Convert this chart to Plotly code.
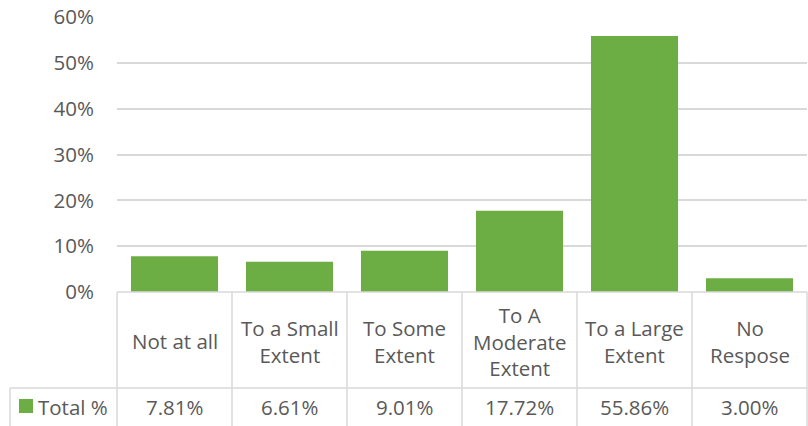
import plotly.graph_objects as go

categories = ["Not at all", "To a Small<br>Extent", "To Some<br>Extent", "To A<br>Moderate<br>Extent", "To a Large<br>Extent", "No<br>Respose"]
values = [7.81, 6.61, 9.01, 17.72, 55.86, 3.00]
series_name = "Total %"
tick_vals = [0, 10, 20, 30, 40, 50, 60]
tick_text = ["0%", "10%", "20%", "30%", "40%", "50%", "60%"]

W, H = 808, 426
L, R, T, B = 117, 1, 17, 134
plot_h = 292 - 17
plot_w = 690

def py(p):
    # pixel y -> paper y
    return (292 - p) / plot_h

def px(p):
    # pixel x -> paper x
    return (p - 117) / plot_w

FONT = "Open Sans"
FS = 20.5
TXT = "#595959"
GRID = "#D9D9D9"
GREEN = "#6CAD44"

n = len(categories)
xs = list(range(n))
fig = go.Figure()
fig.add_trace(go.Bar(x=xs, y=values, width=0.757, marker=dict(color=GREEN, line=dict(width=0)), showlegend=False, hoverinfo="skip"))

shapes = []
def line(x0, y0, x1, y1):
    shapes.append(dict(type="line", xref="paper", yref="paper", x0=x0, y0=y0, x1=x1, y1=y1, line=dict(color=GRID, width=1.5), layer="above"))

def colx(k):
    return k / n

line(0, py(292), 1, py(292))
line(px(10), py(388), 1, py(388))
for k in range(n + 1):
    line(colx(k), py(292), colx(k), py(430))
line(px(10), py(388), px(10), py(430))

annotations = []
for i, c in enumerate(categories):
    cx = (i + 0.5) / n
    annotations.append(dict(x=cx, y=py(341), xref="paper", yref="paper", text=c, showarrow=False,
                            font=dict(family=FONT, size=FS, color=TXT), align="center", xanchor="center", yanchor="middle"))
    annotations.append(dict(x=cx, y=py(407), xref="paper", yref="paper", text=f"{values[i]:.2f}%", showarrow=False,
                            font=dict(family=FONT, size=FS, color=TXT), xanchor="center", yanchor="middle"))

shapes.append(dict(type="rect", xref="paper", yref="paper", x0=px(19), x1=px(33), y0=py(413), y1=py(399), fillcolor=GREEN, line=dict(width=0)))
annotations.append(dict(x=px(36), y=py(407), xref="paper", yref="paper", text=series_name, showarrow=False,
                        xanchor="left", yanchor="middle", font=dict(family=FONT, size=FS, color=TXT)))

fig.update_layout(
    width=W, height=H,
    margin=dict(l=L, r=R, t=T, b=B, pad=0, autoexpand=False),
    paper_bgcolor="white", plot_bgcolor="white",
    shapes=shapes, annotations=annotations,
    xaxis=dict(range=[-0.5, n - 0.5], showticklabels=False, showgrid=False, zeroline=False, showline=False,
               fixedrange=True, automargin=False),
    yaxis=dict(range=[0, 60], tickvals=tick_vals, ticktext=tick_text, showgrid=True, gridcolor=GRID, gridwidth=1.5,
               zeroline=False, showline=False, ticklabelstandoff=22, ticklabeloverflow="allow", automargin=False,
               tickfont=dict(family=FONT, size=FS, color=TXT)),
)
fig.write_html("out.html", config={"displayModeBar": False},
               post_script="document.body.style.margin='0';document.body.style.overflow='hidden';")
